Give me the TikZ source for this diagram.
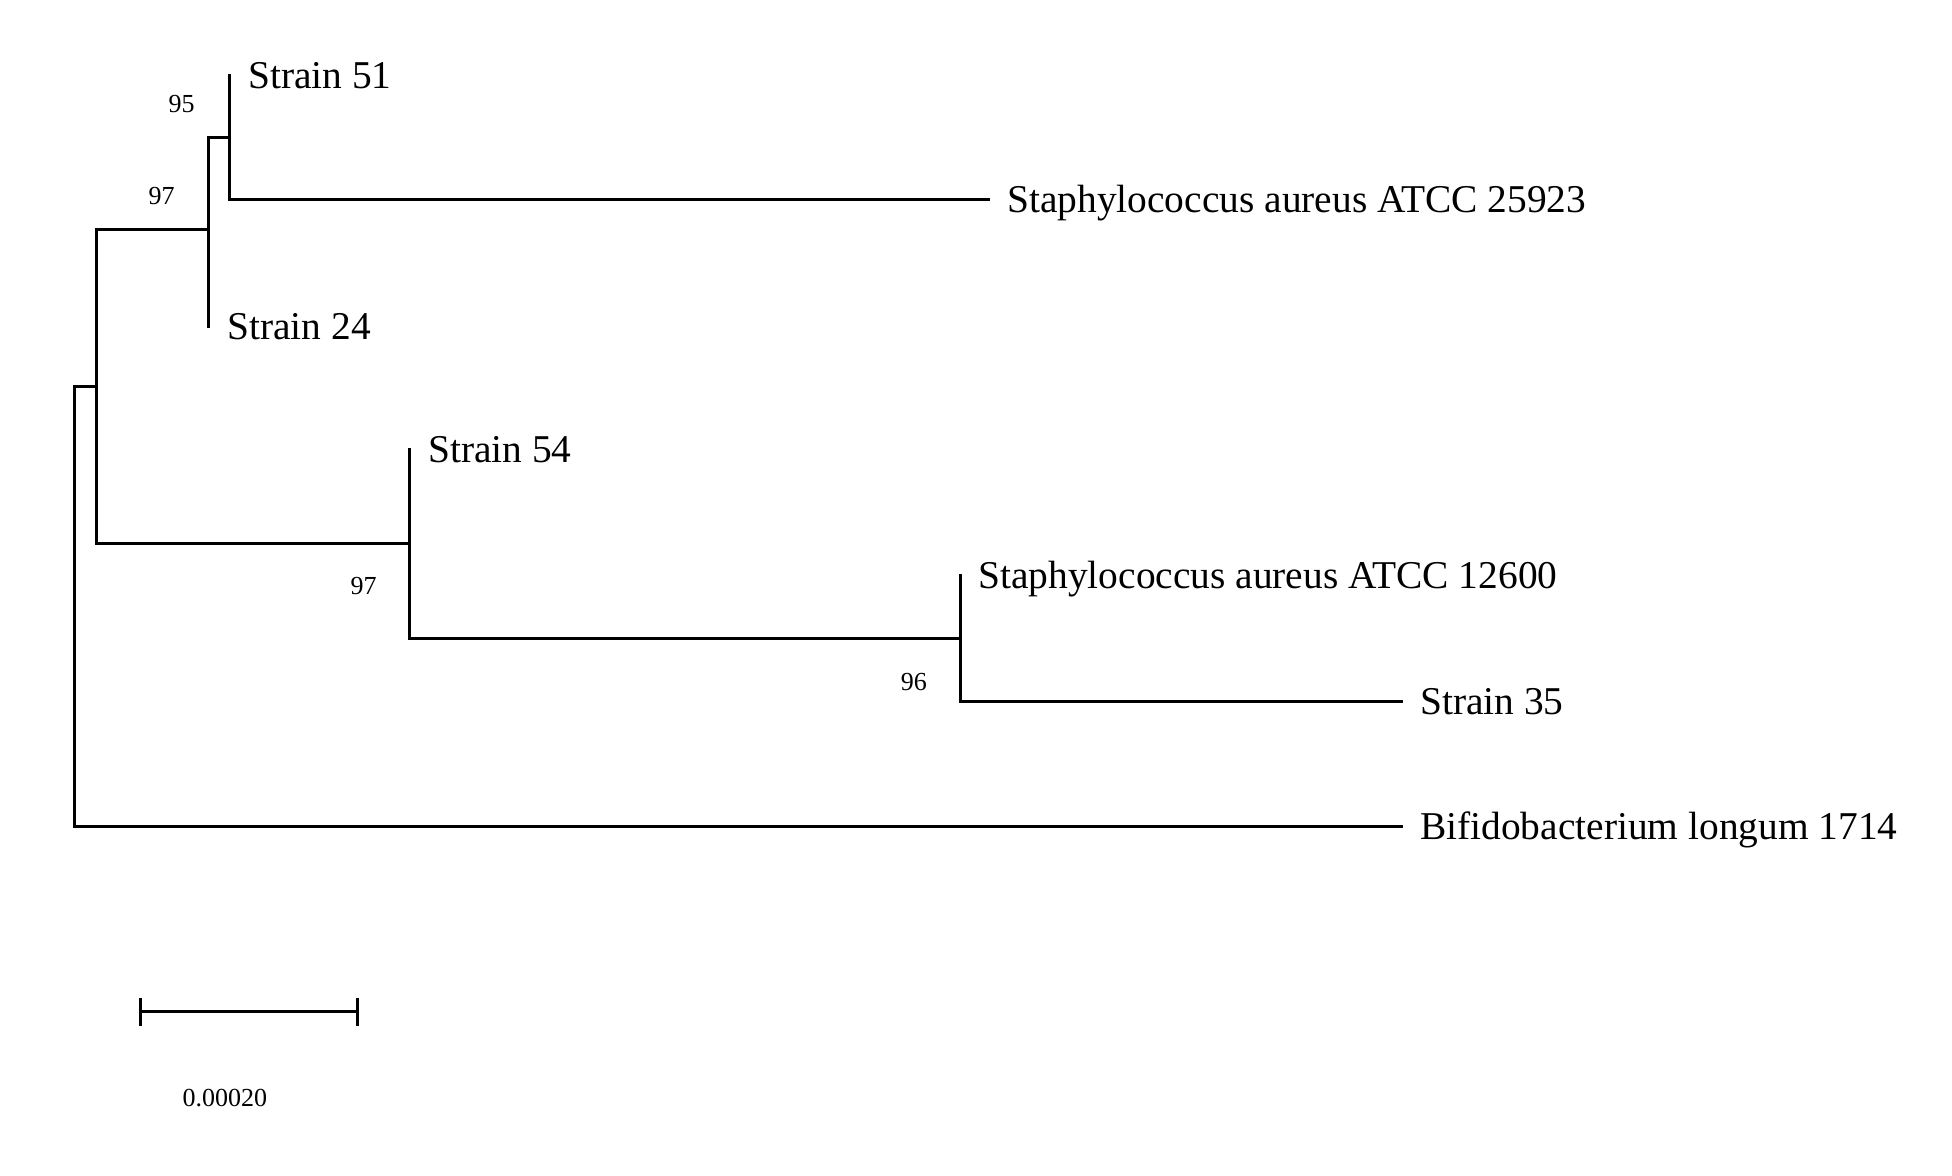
\documentclass[tikz,border=0pt]{standalone}
\usepackage{fontspec}
\setmainfont{Liberation Serif}
\begin{document}
\begin{tikzpicture}[x=0.5pt,y=-0.5pt,
  br/.style={line width=1.5pt, line join=miter, line cap=rect},
  leaf/.style={anchor=base west, inner sep=0pt, xshift=9pt, yshift=-6.5pt, font=\fontsize{19.7}{24}\selectfont},
  boot/.style={anchor=east, inner sep=0pt, font=\fontsize{13}{15}\selectfont}]
\useasboundingbox (0,0) rectangle (1952,1176);
\begin{scope}[x=0.49745pt,y=-0.49745pt]
% tips
\coordinate (t51) at (231,76);
\coordinate (t25923) at (994,201);
\coordinate (t24) at (210,328);
\coordinate (t54) at (412,452);
\coordinate (t12600) at (965,578);
\coordinate (t35) at (1409,705);
\coordinate (tbif) at (1409,831);
% internal nodes (attachment points)
\coordinate (n95) at (231,138);
\coordinate (n97a) at (210,231);
\coordinate (nA) at (97,388);
\coordinate (n97b) at (412,546);
\coordinate (n96) at (965,642);
\coordinate (root) at (75,388);
% branches
\draw[br] (t51) -- (n95 |- t25923) -- (t25923);
\draw[br] (n97a |- n95) -- (n95);
\draw[br] (n97a |- n95) -- (t24);
\draw[br] (nA |- n97a) -- (n97a);
\draw[br] (nA |- n97a) |- (n97b);
\draw[br] (t54) |- (n96);
\draw[br] (t12600) |- (t35);
\draw[br] (root) -- (nA);
\draw[br] (root) |- (tbif);
% leaf labels
\node[leaf] (l51) at (t51) {Strain 51};
\node[leaf] (l25923) at (t25923) {Staphylococcus aureus ATCC 25923};
\node[leaf] (l24) at (t24) {Strain 24};
\node[leaf] (l54) at (t54) {Strain 54};
\node[leaf] (l12600) at (t12600) {Staphylococcus aureus ATCC 12600};
\node[leaf] (l35) at (t35) {Strain 35};
\node[leaf] (lbif) at (tbif) {Bifidobacterium longum 1714};
% bootstrap values
\node[boot] (b95) at (196,105) {95};
\node[boot] (b97a) at (176,197) {97};
\node[boot] (b97b) at (379,589) {97};
\node[boot] (b96) at (932,686) {96};
% scale bar
\coordinate (sA) at (141,1017);
\coordinate (sB) at (359,1017);
\draw[br, line cap=butt] (sA) -- (sB);
\draw[br, line cap=butt] ([yshift=7pt]sA) -- ([yshift=-7pt]sA);
\draw[br, line cap=butt] ([yshift=7pt]sB) -- ([yshift=-7pt]sB);
\node[inner sep=0pt, font=\fontsize{13}{15}\selectfont] (slab) at (226,1104) {0.00020};
\end{scope}
\end{tikzpicture}
\end{document}
